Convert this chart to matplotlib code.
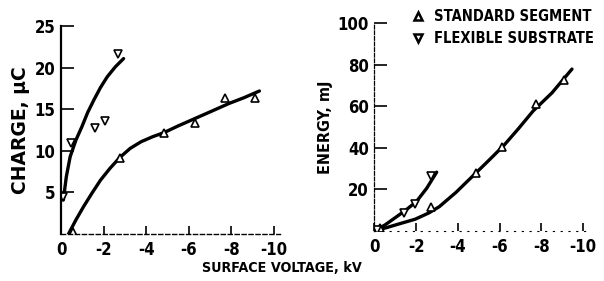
import numpy as np
import matplotlib
matplotlib.use("Agg")
import matplotlib.pyplot as plt
from matplotlib.lines import Line2D

plt.rcParams['font.family'] = ['DejaVu Sans']
plt.rcParams['font.stretch'] = 'condensed'
plt.rcParams['font.weight'] = 'bold'
plt.rcParams['axes.labelweight'] = 'bold'

# --- charge panel (left) ---
chg_std_v = [-0.55, -2.75, -4.85, -6.3, -7.7, -9.1]
chg_std_q = [0.3, 9.2, 12.1, 13.3, 16.4, 16.4]
chg_flex_v = [-0.1, -0.45, -1.6, -2.05, -2.7]
chg_flex_q = [4.4, 11.0, 12.8, 13.6, 21.6]

# curves
chg_std_curve_v = [-0.35, -0.7, -1.06, -1.45, -1.86, -2.3, -2.76, -3.25, -3.76, -4.3, -4.84, -5.5, -6.3, -7.1, -7.89, -8.6, -9.32]
chg_std_curve_q = [0.0, 1.7, 3.3, 4.9, 6.5, 7.9, 9.2, 10.3, 11.1, 11.7, 12.2, 13.0, 13.9, 14.8, 15.7, 16.4, 17.2]
chg_flex_curve_v = [-0.11, -0.25, -0.43, -0.7, -0.98, -1.25, -1.54, -1.85, -2.17, -2.55, -2.94]
chg_flex_curve_q = [4.1, 6.9, 9.3, 11.3, 12.9, 14.6, 16.1, 17.6, 18.9, 20.1, 21.1]

# --- energy panel (right) ---
en_std_v = [-0.25, -2.72, -4.86, -6.1, -7.74, -9.06]
en_std_e = [1.2, 11.6, 27.9, 40.3, 61.2, 72.8]
en_flex_v = [-0.1, -1.4, -1.95, -2.7]
en_flex_e = [0.6, 8.7, 12.8, 26.2]

en_std_curve_v = [0.0, -0.6, -1.2, -1.95, -2.6, -3.1, -3.9, -4.86, -5.5, -6.2, -6.9, -7.6, -8.5, -9.46]
en_std_curve_e = [0.0, 1.6, 3.4, 5.6, 8.6, 11.6, 18.5, 27.9, 34.2, 41.2, 49.3, 57.8, 66.5, 78.0]
en_flex_curve_v = [0.0, -0.5, -1.06, -1.5, -2.0, -2.5, -2.98]
en_flex_curve_e = [0.0, 2.8, 6.8, 10.0, 14.0, 20.5, 28.3]

xticks = [0, -2, -4, -6, -8, -10]
xticklabels = ['0', '-2', '-4', '-6', '-8', '-10']

fig = plt.figure(figsize=(6.04, 2.81), dpi=100)
ax1 = fig.add_axes([0.101, 0.167, 0.363, 0.740])
ax2 = fig.add_axes([0.620, 0.1786, 0.356, 0.738])

lw = 2.4
mk = dict(ms=5.5, mfc='white', mec='black', mew=1.2, ls='none')

ax1.plot(chg_std_curve_v, chg_std_curve_q, color='black', lw=lw, solid_capstyle='round')
ax1.plot(chg_flex_curve_v, chg_flex_curve_q, color='black', lw=lw, solid_capstyle='round')
ax1.plot(chg_std_v, chg_std_q, marker='^', **mk)
ax1.plot(chg_flex_v, chg_flex_q, marker='v', **mk)
ax1.set_xlim(0, -10.3)
ax1.set_ylim(0, 25)
ax1.set_yticks([5, 10, 15, 20, 25])
ax1.set_yticklabels(['5', '10', '15', '20', '25'])
ax1.set_ylabel('CHARGE, \u03bcC', fontsize=13.5, fontstretch='normal', labelpad=3)

ax2.plot(en_std_curve_v, en_std_curve_e, color='black', lw=lw, solid_capstyle='round')
ax2.plot(en_flex_curve_v, en_flex_curve_e, color='black', lw=lw, solid_capstyle='round')
ax2.plot(en_std_v, en_std_e, marker='^', **mk)
ax2.plot(en_flex_v, en_flex_e, marker='v', **mk)
ax2.set_xlim(0, -10.3)
ax2.set_ylim(0, 100)
ax2.set_yticks([20, 40, 60, 80, 100])
ax2.set_yticklabels(['20', '40', '60', '80', '100'])
ax2.set_ylabel('ENERGY, mJ', fontsize=11.5, labelpad=3)

for ax in (ax1, ax2):
    ax.set_facecolor('none')
    ax.set_xticks(xticks)
    ax.set_xticklabels(xticklabels)
    ax.spines['top'].set_visible(False)
    ax.spines['right'].set_visible(False)
    ax.tick_params(axis='both', direction='in', labelsize=12, width=1.2, colors='black')
    ax.tick_params(axis='y', length=9, pad=4)
    ax.tick_params(axis='x', length=6, pad=5)

ax1.spines['left'].set_linewidth(1.6)
ax1.spines['bottom'].set_linewidth(1.0)
ax1.spines['bottom'].set_linestyle((0, (3, 2)))
ax2.spines['left'].set_linewidth(0.9)
ax2.spines['left'].set_linestyle((0, (3, 1.5)))
ax2.spines['bottom'].set_linewidth(0.8)
ax2.spines['bottom'].set_linestyle((0, (1, 6)))

fig.text(0.466, 0.045, 'SURFACE VOLTAGE, kV', ha='center', va='center', fontsize=10.3)

handles = [Line2D([], [], marker='^', ms=5.5, mfc='white', mec='black', mew=1.8, ls='none'),
           Line2D([], [], marker='v', ms=5.5, mfc='white', mec='black', mew=1.8, ls='none')]
fig.legend(handles, ['STANDARD SEGMENT', 'FLEXIBLE SUBSTRATE'], loc='upper left',
           bbox_to_anchor=(0.667, 1.0), frameon=False, fontsize=10.5, handlelength=0.8,
           handletextpad=0.7, labelspacing=0.45, borderaxespad=0.25)

fig.savefig('out.png', dpi=100, facecolor='white')
